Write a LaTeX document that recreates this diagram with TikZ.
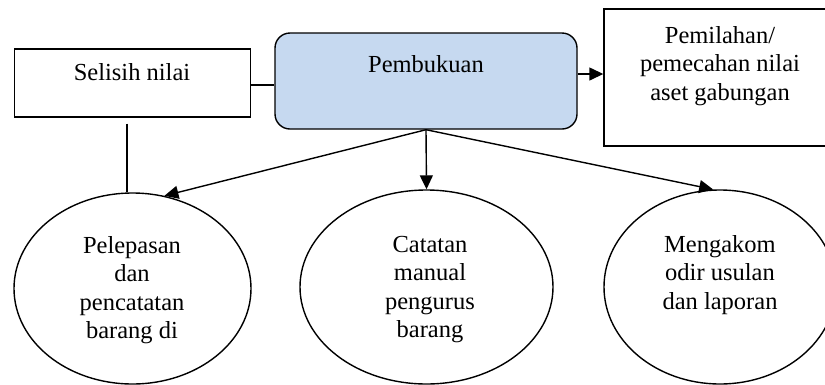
\documentclass[tikz,border=0pt]{standalone}
\usepackage{fontspec}
\setmainfont{Liberation Serif}
\usetikzlibrary{shapes.geometric,arrows.meta}
\definecolor{boxblue}{RGB}{198,217,240}
\tikzset{
  ln/.style={line width=1.4pt, draw=black},
  arr/.style={ln, -{Triangle[length=14pt,width=13pt]}},
  sq/.style={ln, rectangle, inner sep=0pt},
  ell/.style={ln, ellipse, inner sep=0pt},
  txt/.style={inner sep=0pt, anchor=base, font=\fontsize{24.5}{28.5}\selectfont}
}
\begin{document}
\begin{tikzpicture}[x=1pt,y=-1pt]
\useasboundingbox (0,0) rectangle (825,384);
% shapes
\node[sq, minimum width=236pt, minimum height=68pt] (sel) at (132.5,83) {};
\node[sq, rounded corners=15pt, fill=boxblue, minimum width=302pt, minimum height=96pt] (pb) at (426,81) {};
\node[sq, minimum width=232pt, minimum height=137pt] (pm) at (720,77.5) {};
\node[ell, minimum width=237pt, minimum height=191pt] (e1) at (132.5,288.5) {};
\node[ell, minimum width=253pt, minimum height=194pt] (e2) at (426.5,287) {};
\node[ell, minimum width=232pt, minimum height=194pt] (e3) at (720,287) {};
% texts
\node[txt] (tsel) at (132,80) {Selisih nilai};
\node[txt] (tpb) at (426,72) {Pembukuan};
\node[txt] (tpm) at (720,43) {\begin{tabular}[t]{@{}c@{}}Pemilahan/\\pemecahan nilai\\aset gabungan\end{tabular}};
\node[txt] (te1) at (132,253) {\begin{tabular}[t]{@{}c@{}}Pelepasan\\dan\\pencatatan\\barang di\end{tabular}};
\node[txt] (te2) at (430,252) {\begin{tabular}[t]{@{}c@{}}Catatan\\manual\\pengurus\\barang\end{tabular}};
\node[txt] (te3) at (720,252) {\begin{tabular}[t]{@{}c@{}}Mengakom\\odir usulan\\dan laporan\end{tabular}};
% connectors
\draw[ln] ([yshift=-2pt]sel.east) -- ([yshift=-2pt]sel.east -| pb.west);
\draw[arr] ([yshift=7pt]pb.east) -- ([yshift=7pt]pb.east -| pm.west);
\draw[ln] ([xshift=-5.5pt,yshift=-6pt]sel.south) -- ([xshift=-5.5pt]e1.north);
\draw[arr] (pb.south) -- (e1.71);
\draw[arr] (pb.south) -- (e2.north);
\draw[arr] (pb.south) -- (e3.94);
\end{tikzpicture}
\end{document}
